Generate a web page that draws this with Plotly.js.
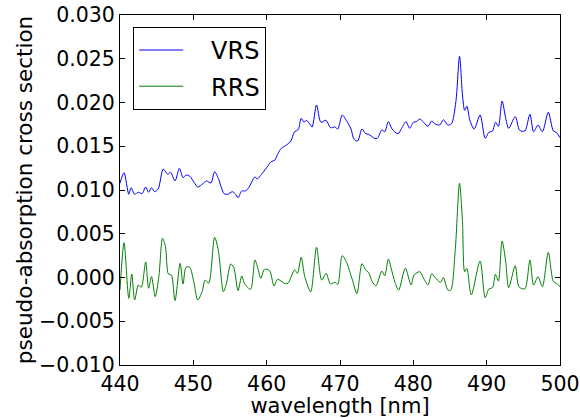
<!DOCTYPE html>
<html>
<head>
<meta charset="utf-8">
<script src="https://cdn.plot.ly/plotly-3.0.1.min.js"></script>
<style>
  html, body { margin: 0; padding: 0; background: #ffffff; }
  #chart { width: 580px; height: 418px; }
</style>
</head>
<body>
<div id="chart"></div>
<script>
// Wavelength samples (nm) and pseudo-absorption cross sections
const vrsWavelength = [440.0, 440.55, 441.2, 441.5, 442.0, 442.5, 443.0, 443.5, 443.9, 444.3, 444.7, 445.2, 445.9, 446.5, 446.9, 447.5, 448.1, 448.6, 449.0, 449.5, 450.1, 450.6, 451.3, 451.8, 452.4, 452.9, 453.4, 454.2, 454.7, 455.3, 455.7, 456.1, 456.6, 457.1, 457.5, 458.4, 458.7, 459.3, 460.0, 460.6, 461.1, 461.5, 462.0, 462.7, 463.3, 463.8, 464.3, 464.7, 465.1, 465.4, 465.9, 466.2, 466.8, 467.4, 468.1, 468.7, 469.3, 469.7, 470.3, 470.9, 471.5, 471.9, 472.4, 473.0, 473.5, 473.9, 474.7, 475.1, 475.7, 476.1, 476.6, 477.1, 477.9, 478.4, 479.0, 479.5, 480.0, 480.4, 480.9, 481.4, 482.0, 482.5, 482.9, 483.6, 484.1, 484.7, 485.2, 485.8, 486.3, 486.7, 487.0, 487.3, 487.7, 488.3, 489.1, 489.8, 490.3, 490.8, 491.2, 491.6, 492.1, 492.6, 493.0, 493.9, 494.5, 495.2, 495.9, 496.4, 497.0, 497.6, 498.4, 499.1, 499.5, 500.0];
const vrsValues = [0.01077, 0.01198, 0.00951, 0.01026, 0.00951, 0.00974, 0.00958, 0.01034, 0.00974, 0.01026, 0.00981, 0.01011, 0.0124, 0.0118, 0.01202, 0.01103, 0.01248, 0.01141, 0.01171, 0.01157, 0.01088, 0.01034, 0.01072, 0.01103, 0.0108, 0.01209, 0.01134, 0.00958, 0.00951, 0.00981, 0.00958, 0.00912, 0.00989, 0.00989, 0.01019, 0.01149, 0.01126, 0.0118, 0.01255, 0.01323, 0.0134, 0.01408, 0.01477, 0.01514, 0.0156, 0.01666, 0.01689, 0.01819, 0.01774, 0.01797, 0.01751, 0.0172, 0.01971, 0.01774, 0.01797, 0.01712, 0.0172, 0.01697, 0.01857, 0.01789, 0.01697, 0.01583, 0.0156, 0.01697, 0.01643, 0.01637, 0.01591, 0.01591, 0.01686, 0.01666, 0.01781, 0.01697, 0.01643, 0.01705, 0.01781, 0.01705, 0.01774, 0.01781, 0.01811, 0.01774, 0.01728, 0.01789, 0.01758, 0.01743, 0.01803, 0.01743, 0.01758, 0.02009, 0.02528, 0.02086, 0.01911, 0.01957, 0.018, 0.01697, 0.01857, 0.01591, 0.01659, 0.01674, 0.01774, 0.01728, 0.02017, 0.01819, 0.01705, 0.01838, 0.01682, 0.01674, 0.01865, 0.01666, 0.01743, 0.01666, 0.01888, 0.01674, 0.01659, 0.01598];

const rrsWavelength = [440.0, 440.55, 441.2, 441.6, 442.0, 442.5, 442.9, 443.5, 443.9, 444.3, 444.8, 445.3, 445.8, 446.2, 446.6, 447.0, 447.5, 448.2, 448.6, 449.0, 449.5, 450.1, 450.6, 451.2, 451.6, 452.1, 452.9, 453.4, 454.1, 454.5, 455.1, 455.5, 456.1, 456.6, 457.0, 457.8, 458.4, 458.8, 459.2, 459.7, 460.4, 461.0, 461.5, 462.4, 462.9, 463.8, 464.2, 464.7, 465.2, 466.0, 466.8, 467.5, 468.1, 468.7, 469.3, 469.7, 470.3, 470.9, 471.4, 471.7, 472.3, 473.0, 473.5, 473.9, 474.4, 474.9, 475.7, 476.1, 476.6, 477.0, 477.5, 478.0, 478.9, 479.7, 480.1, 480.9, 481.4, 482.0, 482.5, 482.9, 483.7, 484.1, 484.7, 485.1, 485.7, 486.3, 486.7, 487.0, 487.3, 487.9, 489.1, 489.8, 490.3, 490.8, 491.2, 491.6, 492.1, 492.6, 493.0, 493.9, 494.4, 495.2, 495.9, 496.4, 497.0, 497.6, 498.4, 499.1, 499.5, 500.0];
const rrsValues = [-0.00143, 0.00398, -0.00238, 0.0004, -0.00257, -0.00086, -0.00112, 0.00177, -0.00123, 0.0001, -0.00219, 0.0001, 0.00448, 0.00352, 0.0004, 0.00029, -0.00265, 0.00162, -0.00074, 0.00117, 0.00117, -0.00066, -0.00257, -0.00162, -0.00029, -0.00066, 0.00459, 0.00314, -0.00162, -0.00074, 0.00154, 0.00117, -0.00151, 0.00017, -0.00074, -0.00135, 0.002, 0.00105, -0.0001, 0.00094, 0.00078, -0.00097, -0.00021, -0.00066, -0.00066, 0.00086, 0.00048, 0.00231, 0.0001, -0.00162, 0.00345, -0.00029, 0.00048, -0.00074, -0.00055, -0.00078, 0.00249, 0.00174, 0.00048, -0.00029, -0.00185, 0.00158, 0.00086, 0.00059, -0.00048, -0.00094, 0.00074, 0.00021, 0.00211, 0.00097, -0.00055, -0.00143, 0.00105, -0.00086, 0.00029, 0.00066, -0.0001, -0.00086, 0.00043, 0.00006, -0.00055, 0.0, -0.00143, -0.00143, 0.00295, 0.01077, 0.00638, 0.00066, 0.00105, -0.002, 0.00189, -0.00231, -0.00131, -0.00117, 0.00037, -0.0004, 0.00417, 0.00181, -0.00117, 0.00135, -0.00105, -0.00131, 0.002, -0.00086, 0.0001, -0.00105, 0.00288, -0.00048, -0.00066, -0.00105];

const seriesNames = ['VRS', 'RRS'];
const xTickValues = [440, 450, 460, 470, 480, 490, 500];
const yTickValues = [-0.010, -0.005, 0.000, 0.005, 0.010, 0.015, 0.020, 0.025, 0.030];

const fontFamily = '"DejaVu Sans", Verdana, sans-serif';
// gap between the legend line sample and its label
const legendPad = '\u00a0\u00a0\u00a0';

const traces = [
  {
    x: vrsWavelength, y: vrsValues, name: legendPad + seriesNames[0],
    type: 'scatter', mode: 'lines', legendgroup: 'a',
    line: { color: '#0000ff', width: 1, shape: 'spline', smoothing: 0.8 }
  },
  {
    x: rrsWavelength, y: rrsValues, name: legendPad + seriesNames[1],
    type: 'scatter', mode: 'lines', legendgroup: 'b',
    line: { color: '#008000', width: 1, shape: 'spline', smoothing: 0.8 }
  }
];

const axisCommon = {
  showline: true, linecolor: '#000000', linewidth: 1, mirror: 'allticks',
  ticks: 'inside', ticklen: 5, tickwidth: 1, tickcolor: '#000000',
  showgrid: false, zeroline: false, ticklabeloverflow: 'allow',
  tickfont: { family: fontFamily, size: 20.5, color: '#000000' }
};

const layout = {
  width: 580, height: 418,
  margin: { l: 120, r: 20, t: 15, b: 53 },
  paper_bgcolor: '#ffffff', plot_bgcolor: '#ffffff',
  font: { family: fontFamily, color: '#000000' },
  showlegend: true,
  legend: {
    x: 0.03, y: 0.966, xanchor: 'left', yanchor: 'top',
    bordercolor: '#000000', borderwidth: 1, bgcolor: '#ffffff',
    font: { family: fontFamily, size: 24, color: '#000000' },
    itemwidth: 44, tracegroupgap: 2
  },
  xaxis: Object.assign({}, axisCommon, {
    range: [440, 500], tickvals: xTickValues,
    ticktext: xTickValues.map(String),
    title: { text: 'wavelength [nm]', font: { family: fontFamily, size: 21 }, standoff: 3 }
  }),
  yaxis: Object.assign({}, axisCommon, {
    range: [-0.010, 0.030], tickvals: yTickValues,
    ticktext: yTickValues.map(v => (v < 0 ? '\u2212' : '') + Math.abs(v).toFixed(3)),
    title: { text: 'pseudo-absorption cross section', font: { family: fontFamily, size: 21.5 }, standoff: 0 }
  })
};

Plotly.newPlot('chart', traces, layout, { staticPlot: true, displayModeBar: false });
</script>
</body>
</html>
